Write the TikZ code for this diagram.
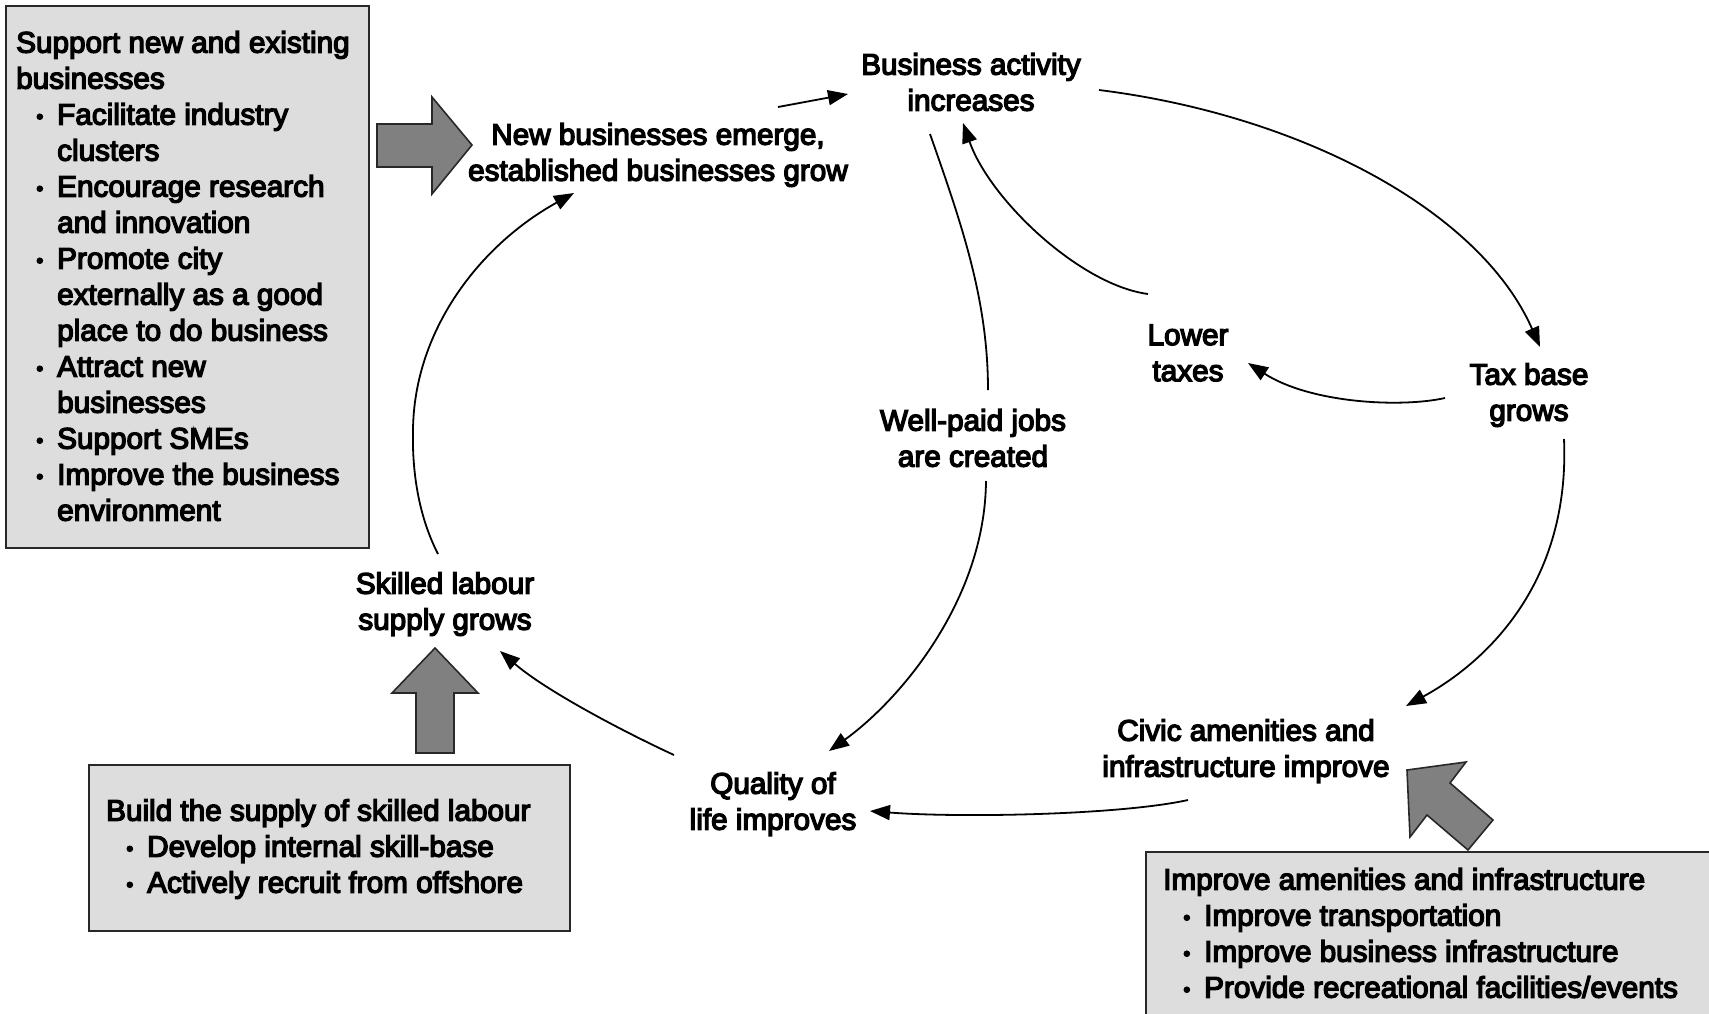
\documentclass[tikz,border=0pt]{standalone}
\usepackage{fontspec}
\newfontfamily\dfamily{Liberation Sans}[FakeBold=4.5]
\usetikzlibrary{arrows.meta}
\definecolor{panelgray}{RGB}{221,221,221}
\definecolor{arrowgray}{RGB}{128,128,128}
\definecolor{edgegray}{RGB}{40,40,40}
\newcommand\dfont{\dfamily\fontsize{29.7pt}{36pt}\selectfont}
\newcommand\bul{\makebox[41pt][l]{\hspace*{20pt}\raisebox{1pt}{\scalebox{0.7}{•}}}}
\newcommand\cont{\hspace*{41pt}}
\begin{document}
\begin{tikzpicture}[x=1pt,y=-1pt,
  txt/.style={font=\dfont, align=center, inner sep=0pt},
  boxtxt/.style={font=\dfont, align=left, inner sep=0pt, anchor=west},
  panel/.style={draw=edgegray, line width=2pt, fill=panelgray, anchor=north west, inner sep=0pt},
  blockarrow/.style={draw=edgegray, line width=1.6pt, fill=arrowgray, line join=miter},
  conn/.style={line width=1.8pt, -{Triangle[length=20pt,width=15pt]}},
  plainconn/.style={line width=1.8pt}
]
\useasboundingbox (0,0) rectangle (1709,1013);

% panels
\node[panel, minimum width=363pt, minimum height=542pt] (leftbox) at (5,5) {};
\node[panel, minimum width=481pt, minimum height=166pt] (blbox) at (88,764) {};
\node[panel, minimum width=580pt, minimum height=180pt] (brbox) at (1145,851) {};

% panel texts
\node[boxtxt] (lefttxt) at (16,276) {Support new and existing\\
businesses\\
\bul Facilitate industry\\
\cont clusters\\
\bul Encourage research\\
\cont and innovation\\
\bul Promote city\\
\cont externally as a good\\
\cont place to do business\\
\bul Attract new\\
\cont businesses\\
\bul Support SMEs\\
\bul Improve the business\\
\cont environment};

\node[boxtxt] (bltxt) at (106,849) {Build the supply of skilled labour\\
\bul Develop internal skill-base\\
\bul Actively recruit from offshore};

\node[boxtxt] (brtxt) at (1163,933) {Improve amenities and infrastructure\\
\bul Improve transportation\\
\bul Improve business infrastructure\\
\bul Provide recreational facilities/events};

% cycle labels
\node[txt] (ba) at (971,82) {Business activity\\increases};
\node[txt] (new) at (658,155) {New businesses emerge,\\established businesses grow};
\node[txt] (lower) at (1188,353) {Lower\\taxes};
\node[txt] (tax) at (1529,395) {Tax base\\grows};
\node[txt] (jobs) at (973,438) {Well-paid jobs\\are created};
\node[txt] (skilled) at (445,604) {Skilled labour\\supply grows};
\node[txt] (quality) at (773,804) {Quality of\\life improves};
\node[txt] (civic) at (1246,751) {Civic amenities and\\infrastructure improve};

% block arrows
\draw[blockarrow] (377,124) -- (432,124) -- (432,97) -- (472,145) -- (432,194) -- (432,167) -- (377,167) -- cycle;
\draw[blockarrow] (416,753) -- (416,693) -- (392,693) -- (435,648) -- (478,693) -- (454,693) -- (454,753) -- cycle;
\draw[blockarrow] (1407,770) -- (1466,762) -- (1450,783) -- (1493,820) -- (1468,850) -- (1427,815) -- (1410,837) -- cycle;

% connector end points
\coordinate (n2b-s) at (778,107);
\coordinate (n2b-e) at (848,94);
\coordinate (b2t-s) at (1099,90);
\coordinate (b2t-e) at (1540,347);
\coordinate (t2l-s) at (1445,398);
\coordinate (t2l-e) at (1248,363);
\coordinate (l2b-s) at (1148,294);
\coordinate (l2b-e) at (963,123);
\coordinate (b2j-s) at (930,134);
\coordinate (b2j-e) at (988,390);
\coordinate (j2q-s) at (986,481);
\coordinate (j2q-e) at (829,751);
\coordinate (c2q-s) at (1188,800);
\coordinate (c2q-e) at (870,811);
\coordinate (q2s-s) at (674,755);
\coordinate (q2s-e) at (500,651);
\coordinate (t2c-s) at (1564,439);
\coordinate (t2c-e) at (1406,706);
\coordinate (s2n-s) at (438,554);
\coordinate (s2n-m) at (413,430);
\coordinate (s2n-e) at (574,193);

% connectors
\draw[conn] (n2b-s) -- (n2b-e);
\draw[conn] (b2t-s) .. controls (1300,115) and (1480,210) .. (b2t-e);
\draw[conn] (t2l-s) .. controls (1400,408) and (1310,403) .. (t2l-e);
\draw[conn] (l2b-s) .. controls (1080,285) and (990,200) .. (l2b-e);
\draw[plainconn] (b2j-s) .. controls (962,225) and (988,300) .. (b2j-e);
\draw[conn] (j2q-s) .. controls (985,600) and (900,700) .. (j2q-e);
\draw[conn] (c2q-s) .. controls (1120,815) and (960,818) .. (c2q-e);
\draw[conn] (q2s-s) .. controls (620,730) and (545,690) .. (q2s-e);
\draw[conn] (t2c-s) .. controls (1570,580) and (1490,660) .. (t2c-e);
\draw[conn] (s2n-s) .. controls (418,515) and (412,470) .. (s2n-m) .. controls (414,330) and (480,245) .. (s2n-e);
\end{tikzpicture}
\end{document}
